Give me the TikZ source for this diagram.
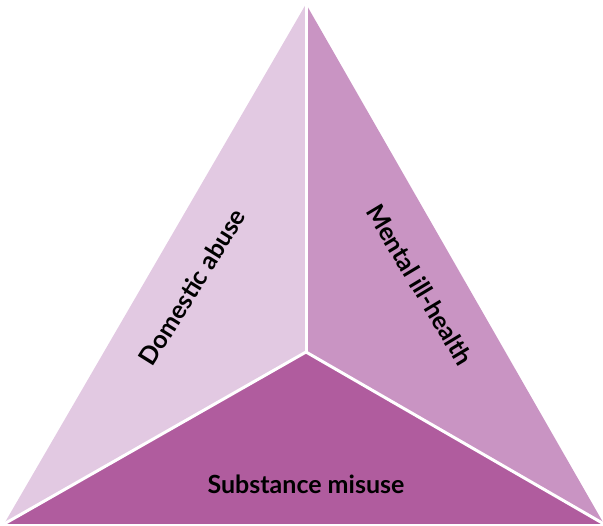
\documentclass[tikz,border=0pt]{standalone}
\usepackage{fontspec}
\setmainfont{Lato}
\definecolor{cleft}{HTML}{E2C9E2}
\definecolor{cright}{HTML}{C994C3}
\definecolor{cbottom}{HTML}{B05C9E}
\begin{document}
\begin{tikzpicture}[x=1pt,y=-1pt,
  lbl/.style={font=\fontsize{25}{30}\selectfont\bfseries, text=black, inner sep=0pt},
  sep/.style={draw=white, line width=3pt}]
\useasboundingbox (0,0) rectangle (603,526);
\coordinate (A) at (306,4);
\coordinate (L) at (4,524);
\coordinate (R) at (604,524);
\coordinate (C) at (306,352);
\fill[cleft] (A) -- (C) -- (L) -- cycle;
\fill[cright] (A) -- (R) -- (C) -- cycle;
\fill[cbottom] (L) -- (C) -- (R) -- cycle;
\draw[sep] (C) -- (A);
\draw[sep] (C) -- (L);
\draw[sep] (C) -- (R);
\node[lbl, rotate=58] (dom) at (192,287) {Domestic abuse};
\node[lbl, rotate=-59] (men) at (420,285) {Mental ill-health};
\node[lbl] (sub) at (306,484) {Substance misuse};
\end{tikzpicture}
\end{document}
